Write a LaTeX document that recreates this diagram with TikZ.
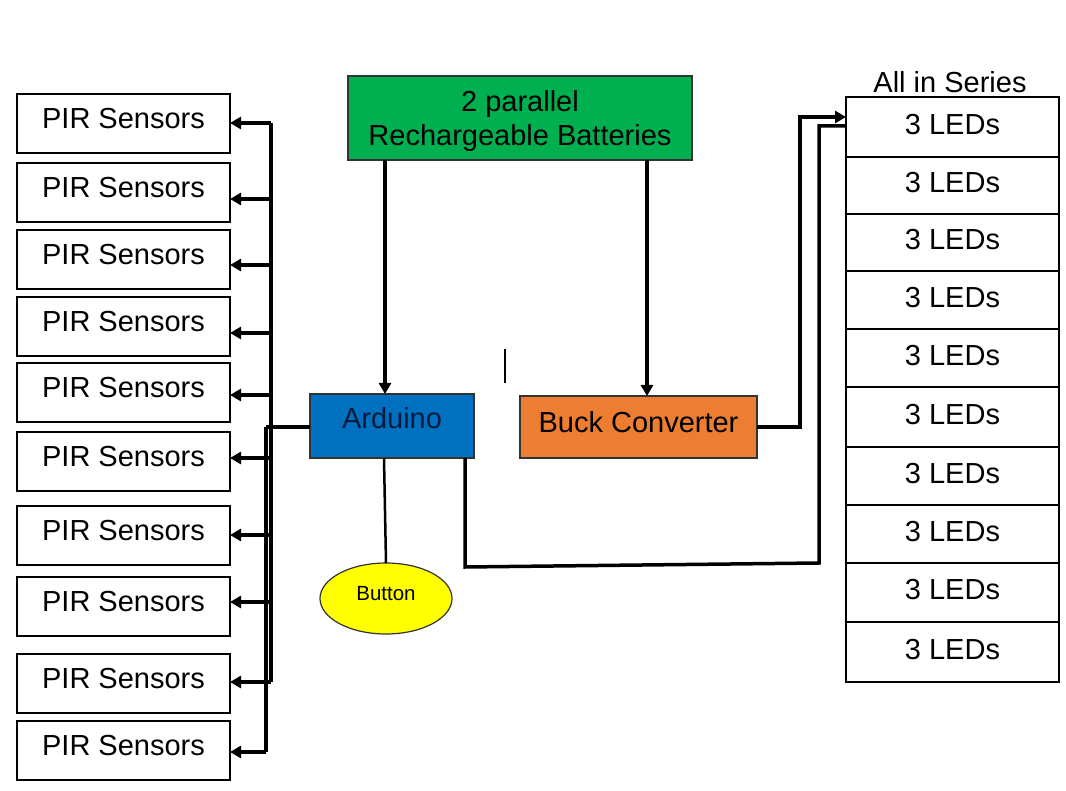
\documentclass[tikz,border=0pt]{standalone}
\usepackage{fontspec}
\setmainfont{Liberation Sans}
\usetikzlibrary{arrows.meta,shapes.geometric}
\definecolor{batgreen}{HTML}{00B050}
\definecolor{ardblue}{HTML}{0070C0}
\definecolor{buckorange}{HTML}{ED7D31}
\definecolor{btnyellow}{HTML}{FFFF00}
\definecolor{darktext}{HTML}{0A1A3A}
\begin{document}
\begin{tikzpicture}[x=1pt,y=-1pt,
  txt/.style={font=\fontsize{29}{34}\selectfont},
  pirbox/.style={txt,draw=black,line width=1.5pt,minimum width=213pt,minimum height=59pt,inner sep=0pt,outer sep=0pt,text depth=10pt},
  ledbox/.style={txt,draw=black,line width=1.5pt,minimum width=213pt,inner sep=0pt,outer sep=0pt,text depth=6pt},
  conn/.style={line width=3.5pt,draw=black},
  arr/.style={conn,-{Triangle[length=11pt,width=12pt]}}]
\useasboundingbox[fill=white] (0,0) rectangle (1066,791);

% PIR sensors
\foreach \i/\t/\b in {1/94/153,2/163/222,3/230/289,4/297/356,5/363/422,6/432/491,7/506/565,8/577/636,9/654/713,10/721/780}
  \node[pirbox,minimum height={(\b-\t)*1pt}] (pir\i) at (123.5,{(\t+\b)/2}) {PIR Sensors};

% LEDs
\foreach \i/\t/\b in {1/97/157,2/157/214,3/214/271,4/271/329,5/329/387,6/387/447,7/447/505,8/505/563,9/563/622,10/622/682}
  \node[ledbox,minimum height={(\b-\t)*1pt}] (led\i) at (952.5,{(\t+\b)/2}) {3 LEDs};
\node[txt,inner sep=0pt] (series) at (950,82) {All in Series};

% main blocks
\node[txt,draw=black!80,line width=1.2pt,fill=batgreen,minimum width=344pt,minimum height=84pt,align=center,inner sep=0pt,outer sep=0pt,text depth=0pt]
  (bat) at (520,118) {2 parallel\\Rechargeable Batteries};
\node[txt,text=darktext,draw=black!80,line width=1.2pt,fill=ardblue,minimum width=164pt,minimum height=64pt,inner sep=0pt,outer sep=0pt,text depth=16pt]
  (ard) at (392,426) {Arduino};
\node[txt,draw=black!80,line width=1.2pt,fill=buckorange,minimum width=237pt,minimum height=62pt,inner sep=0pt,outer sep=0pt,text depth=10pt]
  (buck) at (638.5,427) {Buck Converter};
\node[ellipse,draw=black!80,line width=1.2pt,fill=btnyellow,minimum width=132pt,minimum height=71pt,inner sep=0pt,outer sep=0pt,
  font=\fontsize{20.5}{24}\selectfont,text depth=10pt]
  (btn) at (386,598.5) {Button};

% battery to arduino / buck
\draw[arr] (bat.south -| 385,0) -- (ard.north -| 385,0);
\draw[arr] (bat.south -| 647,0) -- (buck.north -| 647,0);

% arduino to PIR sensors bus
\coordinate (j0) at (266,427);
\draw[conn,line width=4.5pt] (ard.west |- j0) -- (j0);
\draw[conn] (271,123) -- (271,682);
\draw[conn] (j0) -- (266,752);
\foreach \i/\y in {1/123,2/199,3/265,4/333,5/395,6/458,7/535,8/602,9/682}
  \draw[arr] (271,\y) -- (pir\i.east |- 0,\y);
\draw[arr] (266,752) -- (pir10.east |- 0,752);

% button
\draw[line width=2.5pt] (ard.south -| 384,0) -- (btn.north);

% arduino to LEDs
\coordinate (a1) at (465,567);
\coordinate (a2) at (819,563);
\draw[conn,line join=miter] (ard.south -| 465,0) -- (a1) -- (a2) -- (819,126) -- (led1.west |- 0,126);

% buck to LEDs
\draw[arr,line join=miter] (buck.east) -- (800,427) -- (800,117) -- (led1.west |- 0,117);

% stray mark
\draw[line width=1.8pt] (505,349) -- (505,383);
\end{tikzpicture}
\end{document}
